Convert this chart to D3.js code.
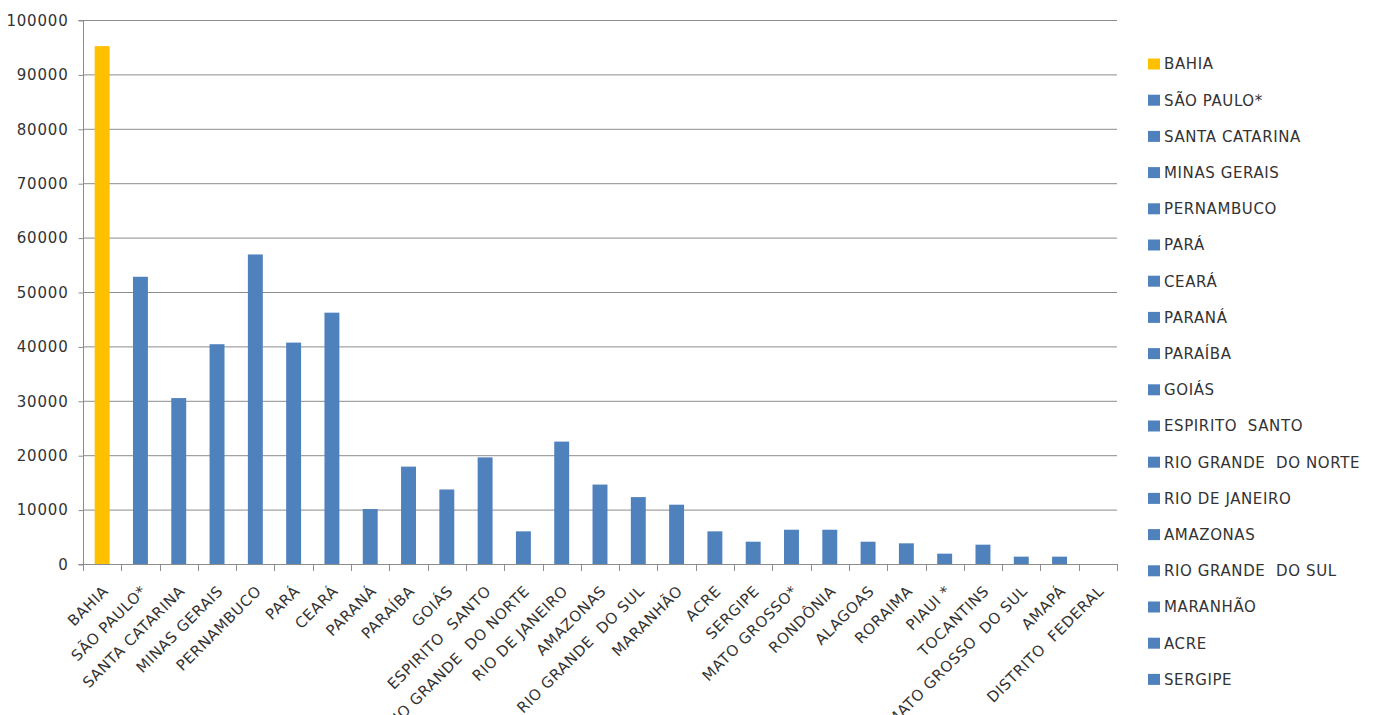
<!DOCTYPE html>
<html>
<head>
<meta charset="utf-8">
<script src="https://cdn.jsdelivr.net/npm/d3@7"></script>
<style>
  html, body { margin: 0; padding: 0; background: #fff; }
  svg { display: block; }
  text { font-family: "DejaVu Sans", Verdana, sans-serif; fill: #333; }
</style>
</head>
<body>
<svg id="chart" width="1375" height="715"></svg>
<script>
const categories = ["BAHIA","SÃO PAULO*","SANTA CATARINA","MINAS GERAIS","PERNAMBUCO","PARÁ","CEARÁ","PARANÁ","PARAÍBA","GOIÁS","ESPIRITO  SANTO","RIO GRANDE  DO NORTE","RIO DE JANEIRO","AMAZONAS","RIO GRANDE  DO SUL","MARANHÃO","ACRE","SERGIPE","MATO GROSSO*","RONDÔNIA","ALAGOAS","RORAIMA","PIAUI *","TOCANTINS","MATO GROSSO  DO SUL","AMAPÁ","DISTRITO  FEDERAL"];
const values = [95200,52800,30500,40400,56900,40700,46200,10100,17900,13700,19600,6000,22500,14600,12300,10900,6000,4100,6300,6300,4100,3800,1900,3550,1350,1350,0];
const highlight = ["BAHIA"];
const legendItems = categories.slice(0, 18);
const yTicks = [0,10000,20000,30000,40000,50000,60000,70000,80000,90000,100000];

const colorBlue = "#4F81BD", colorYellow = "#FFC000", gridColor = "#8c8c8c";
const svg = d3.select("#chart");
const mLeft = 83, mRight = 1117, mTop = 20, mBottom = 564;

const x = d3.scaleBand().domain(categories).range([mLeft, mRight]).paddingInner(0.61).paddingOuter(0.305);
const y = d3.scaleLinear().domain([0, 100000]).range([mBottom, mTop]);
const color = d => highlight.includes(d) ? colorYellow : colorBlue;

// gridlines
svg.append("g").selectAll("line").data(yTicks.filter(t => t > 0)).join("line")
  .attr("x1", mLeft).attr("x2", mRight)
  .attr("y1", d => y(d) + 0.5).attr("y2", d => y(d) + 0.5)
  .attr("stroke", gridColor).attr("stroke-width", 1);

// bars
svg.append("g").selectAll("rect").data(categories).join("rect")
  .attr("x", d => x(d))
  .attr("width", x.bandwidth())
  .attr("y", (d, i) => y(values[i]))
  .attr("height", (d, i) => mBottom - y(values[i]))
  .attr("fill", d => color(d));

// y axis
const yAxis = d3.axisLeft(y).tickValues(yTicks).tickSize(5).tickPadding(10).tickFormat(d3.format("d"));
const yg = svg.append("g").attr("transform", `translate(${mLeft + 0.5},0.5)`).call(yAxis);
yg.selectAll("path, line").attr("stroke", gridColor);
yg.select(".domain").attr("d", `M-5,${mTop}H0V${mBottom}H-5`);
yg.selectAll("text").style("font-family", '"DejaVu Sans", Verdana, sans-serif')
  .style("font-size", "15px").style("letter-spacing", "0.8px").attr("fill", "#333");

// x axis baseline and ticks at category boundaries
const xEdges = d3.range(categories.length + 1).map(i => mLeft + (mRight - mLeft) * i / categories.length);
svg.append("line").attr("x1", mLeft).attr("x2", mRight).attr("y1", mBottom + 0.5).attr("y2", mBottom + 0.5)
  .attr("stroke", gridColor);
svg.append("g").selectAll("line").data(xEdges).join("line")
  .attr("x1", d => Math.round(d) + 0.5).attr("x2", d => Math.round(d) + 0.5)
  .attr("y1", mBottom).attr("y2", mBottom + 7).attr("stroke", gridColor);

// x labels
svg.append("g").selectAll("text").data(categories).join("text")
  .attr("transform", d => `translate(${x(d) + x.bandwidth() / 2 + 7},${mBottom + 28}) rotate(-45)`)
  .attr("text-anchor", "end")
  .style("font-size", "15px").style("letter-spacing", "0.6px")
  .style("white-space", "pre")
  .text(d => d);

// legend
const lg = svg.append("g").selectAll("g").data(legendItems).join("g")
  .attr("transform", (d, i) => `translate(1148,${64 + i * 36.2})`);
lg.append("rect").attr("x", 0).attr("y", -5.5).attr("width", 12).attr("height", 11).attr("fill", d => color(d));
lg.append("text").attr("x", 16).attr("y", 0).attr("dy", "0.36em")
  .style("font-size", "15px").style("letter-spacing", "0.6px")
  .style("white-space", "pre")
  .text(d => d);
</script>
</body>
</html>
